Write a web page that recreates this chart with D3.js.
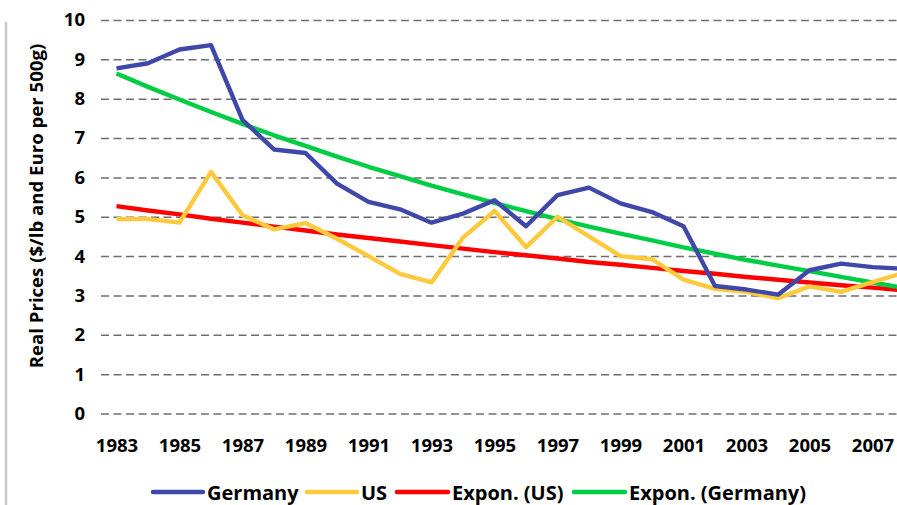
<!DOCTYPE html>
<html>
<head>
<meta charset="utf-8">
<script src="https://cdn.jsdelivr.net/npm/d3@7"></script>
<style>
  html, body { margin: 0; padding: 0; background: #fff; }
  svg { display: block; font-family: "Open Sans", "Noto Sans", sans-serif; font-weight: bold; }
</style>
</head>
<body>
<svg id="chart" width="897" height="505"></svg>
<script>
const years = [1983,1984,1985,1986,1987,1988,1989,1990,1991,1992,1993,1994,1995,1996,1997,1998,1999,2000,2001,2002,2003,2004,2005,2006,2007,2008];
const germany = [8.77,8.90,9.25,9.36,7.46,6.71,6.62,5.84,5.38,5.19,4.85,5.08,5.42,4.76,5.55,5.74,5.34,5.12,4.76,3.24,3.15,3.02,3.64,3.81,3.72,3.68];
const us = [4.94,4.94,4.85,6.14,5.04,4.68,4.84,4.44,4.00,3.55,3.33,4.47,5.15,4.23,5.00,4.50,4.00,3.92,3.40,3.17,3.09,2.93,3.23,3.09,3.34,3.58];
const exponUS = [5.27,5.16,5.06,4.95,4.85,4.75,4.65,4.55,4.46,4.37,4.28,4.19,4.10,4.02,3.94,3.85,3.78,3.70,3.62,3.55,3.47,3.40,3.33,3.26,3.20,3.13];
const exponGermany = [8.64,8.30,7.98,7.66,7.36,7.07,6.80,6.53,6.27,6.03,5.79,5.57,5.35,5.14,4.94,4.75,4.57,4.40,4.22,4.06,3.90,3.76,3.62,3.47,3.33,3.19];
const yTicks = [0,1,2,3,4,5,6,7,8,9,10];
const xTickLabels = ["1983","1985","1987","1989","1991","1993","1995","1997","1999","2001","2003","2005","2007"];
const seriesNames = ["Germany","US","Expon. (US)","Expon. (Germany)"];
const seriesColors = ["#3F48A8","#FFC93C","#FF0000","#00CC44"];

const svg = d3.select("#chart");
const W = 897, H = 505;
const gridLeft = 101;

const x = d3.scaleLinear().domain([1983, 2008]).range([116.5, 904]);
const y = d3.scaleLinear().domain([0, 10]).range([413.5, 20]);

// left gray border
svg.append("line")
  .attr("x1", 6).attr("x2", 6).attr("y1", 22).attr("y2", H)
  .attr("stroke", "#c8c8c8").attr("stroke-width", 2.5);

// y axis with gridlines
const yAxis = svg.append("g")
  .attr("transform", `translate(${gridLeft},0)`)
  .call(d3.axisLeft(y).tickValues(yTicks).tickFormat(d3.format("d"))
    .tickSizeInner(-(W - gridLeft)).tickSizeOuter(0).tickPadding(16));
yAxis.select(".domain").remove();
yAxis.selectAll(".tick line")
  .attr("stroke", "#6e6e6e").attr("stroke-width", 1.5).attr("stroke-dasharray", "8,4.5");
yAxis.selectAll(".tick text")
  .attr("font-size", 18.5).attr("font-weight", "bold").attr("fill", "#000")
  .attr("font-family", "'Open Sans', sans-serif");

// x axis
const xAxis = svg.append("g")
  .attr("transform", `translate(0,${y(0)})`)
  .call(d3.axisBottom(x).tickValues(xTickLabels.map(Number)).tickFormat(d3.format("d"))
    .tickSize(0).tickPadding(25));
xAxis.select(".domain").remove();
xAxis.selectAll(".tick text")
  .attr("font-size", 18.5).attr("font-weight", "bold").attr("fill", "#000")
  .attr("font-family", "'Open Sans', sans-serif");

// y axis title
svg.append("text")
  .attr("transform", `translate(43,206) rotate(-90)`)
  .attr("text-anchor", "middle")
  .attr("font-size", 18.6).attr("fill", "#000")
  .text("Real Prices ($/lb and Euro per 500g)");

// lines
const allSeries = [germany, us, exponUS, exponGermany];
const line = d3.line().x((d, i) => x(years[i])).y(d => y(d));
const drawOrder = [2, 3, 1, 0];
drawOrder.forEach(k => {
  svg.append("path")
    .datum(allSeries[k])
    .attr("d", line)
    .attr("fill", "none")
    .attr("stroke", seriesColors[k])
    .attr("stroke-width", 4.4)
    .attr("stroke-linejoin", "round");
});

// legend
const legendItems = [
  {x1: 153, x2: 203, tx: 207},
  {x1: 307, x2: 357, tx: 361},
  {x1: 397, x2: 448, tx: 452},
  {x1: 574, x2: 625, tx: 629}
];
legendItems.forEach((it, i) => {
  svg.append("line")
    .attr("x1", it.x1).attr("x2", it.x2).attr("y1", 492).attr("y2", 492)
    .attr("stroke", seriesColors[i]).attr("stroke-width", 4.5).attr("stroke-linecap", "round");
  svg.append("text")
    .attr("x", it.tx).attr("y", 500)
    .attr("font-size", 20).attr("fill", "#000")
    .text(seriesNames[i]);
});
</script>
</body>
</html>
